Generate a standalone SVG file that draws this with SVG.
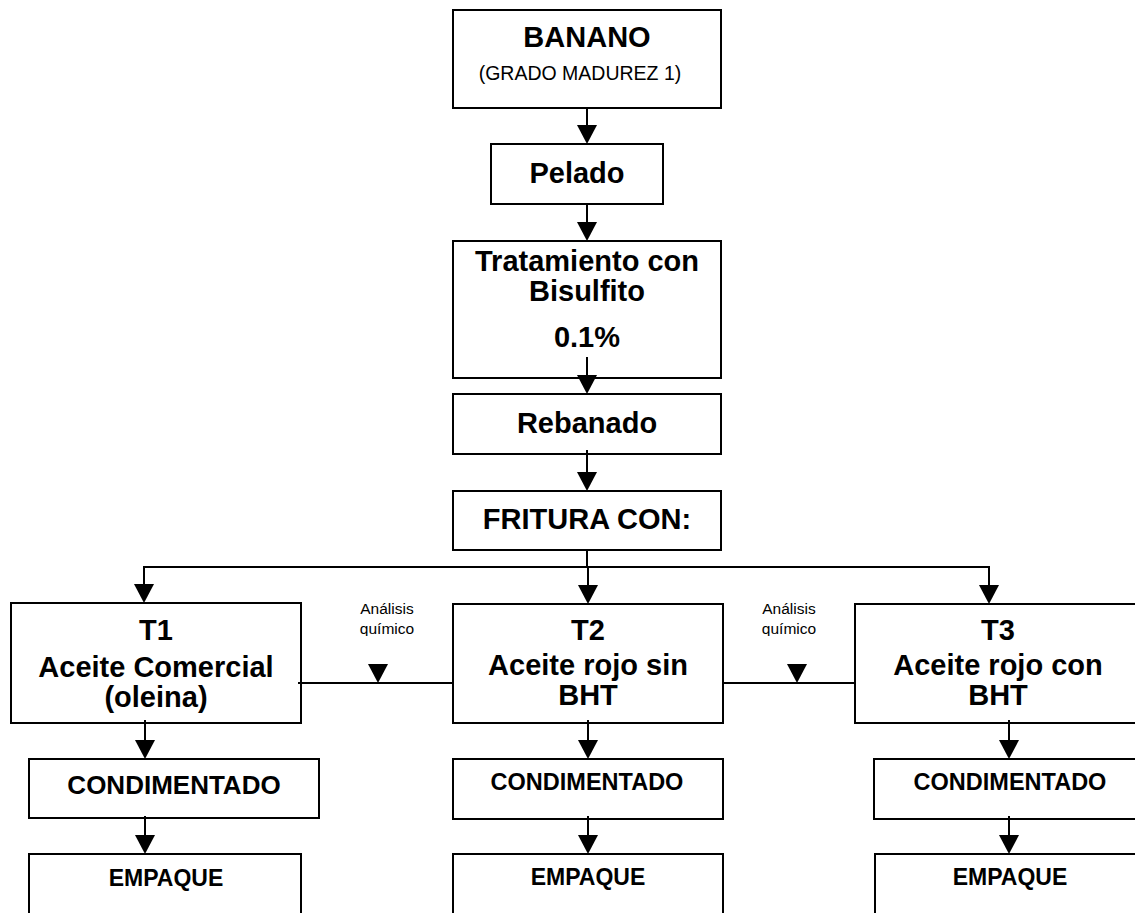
<svg xmlns="http://www.w3.org/2000/svg" xmlns:xlink="http://www.w3.org/1999/xlink" width="1135" height="913" viewBox="0 0 1135 913">
<style>
.box{fill:#fff;stroke:#000;stroke-width:2}
.ln{fill:none;stroke:#000;stroke-width:2}
.b{font-family:"Liberation Sans",Arial,sans-serif;font-weight:bold;fill:#000;text-anchor:middle}
.r{font-family:"Liberation Sans",Arial,sans-serif;fill:#000;text-anchor:middle}
</style>
<defs>
<path id="ah" d="M-10,-19 L10,-19 L0,0 Z" fill="#000"/>
<clipPath id="lblclip"><rect x="0" y="590" width="1135" height="46"/></clipPath>
</defs>
<rect width="1135" height="913" fill="#fff"/>
<g id="banano"><rect class="box" x="453" y="10" width="268" height="98"/>
<text class="b" x="587" y="47" font-size="29">BANANO</text>
<text class="r" x="580" y="80" font-size="19.5">(GRADO MADUREZ 1)</text></g>
<g id="pelado"><rect class="box" x="491" y="144" width="172" height="60"/>
<text class="b" x="577" y="183" font-size="29">Pelado</text></g>
<g id="tratamiento"><rect class="box" x="453" y="241" width="268" height="137"/>
<text class="b" x="587" y="271" font-size="29">Tratamiento con</text>
<text class="b" x="587" y="301" font-size="29">Bisulfito</text>
<text class="b" x="587" y="347" font-size="29">0.1%</text></g>
<g id="rebanado"><rect class="box" x="453" y="394" width="268" height="60"/>
<text class="b" x="587" y="433" font-size="29">Rebanado</text></g>
<g id="fritura"><rect class="box" x="453" y="491" width="268" height="59"/>
<text class="b" x="587" y="529" font-size="29">FRITURA CON:</text></g>
<g id="t1"><rect class="box" x="11" y="603" width="290" height="120"/>
<text class="b" x="156" y="640" font-size="29">T1</text>
<text class="b" x="156" y="677" font-size="29">Aceite Comercial</text>
<text class="b" x="156" y="707" font-size="29">(oleina)</text></g>
<g id="t2"><rect class="box" x="453" y="604" width="270" height="119"/>
<text class="b" x="588" y="640" font-size="29">T2</text>
<text class="b" x="588" y="675" font-size="29">Aceite rojo sin</text>
<text class="b" x="588" y="705" font-size="29">BHT</text></g>
<g id="t3"><rect class="box" x="855" y="604" width="292" height="119"/>
<text class="b" x="998" y="640" font-size="29">T3</text>
<text class="b" x="998" y="675" font-size="29">Aceite rojo con</text>
<text class="b" x="998" y="705" font-size="29">BHT</text></g>
<g id="cond1"><rect class="box" x="29" y="759" width="290" height="59"/>
<text class="b" x="174" y="794" font-size="26">CONDIMENTADO</text></g>
<g id="cond2"><rect class="box" x="453" y="759" width="270" height="60"/>
<text class="b" x="587" y="790" font-size="23.5">CONDIMENTADO</text></g>
<g id="cond3"><rect class="box" x="874" y="759" width="273" height="60"/>
<text class="b" x="1010" y="790" font-size="23.5">CONDIMENTADO</text></g>
<g id="emp1"><rect class="box" x="29" y="854" width="272" height="70"/>
<text class="b" x="166" y="886" font-size="23">EMPAQUE</text></g>
<g id="emp2"><rect class="box" x="453" y="854" width="270" height="70"/>
<text class="b" x="588" y="885" font-size="23">EMPAQUE</text></g>
<g id="emp3"><rect class="box" x="875" y="854" width="272" height="70"/>
<text class="b" x="1010" y="885" font-size="23">EMPAQUE</text></g>
<g id="labels" clip-path="url(#lblclip)">
<text class="r" x="387" y="614" font-size="15.5">Análisis</text>
<text class="r" x="387" y="634" font-size="15.5">químico</text>
<text class="r" x="789" y="614" font-size="15.5">Análisis</text>
<text class="r" x="789" y="634" font-size="15.5">químico</text>
</g>
<g id="connectors">
<path class="ln" d="M587,108 V130"/><use xlink:href="#ah" x="587" y="144"/>
<path class="ln" d="M587,204 V227"/><use xlink:href="#ah" x="587" y="241"/>
<path class="ln" d="M587,357 V380"/><use xlink:href="#ah" x="587" y="394"/>
<path class="ln" d="M587,450 V477"/><use xlink:href="#ah" x="587" y="491"/>
<path class="ln" d="M587,550 V567 M144,567 H989 M144,566 V590 M588,567 V590 M989,566 V590"/>
<use xlink:href="#ah" x="144" y="603"/><use xlink:href="#ah" x="588" y="604"/><use xlink:href="#ah" x="989" y="604"/>
<path class="ln" d="M145,720 V745 M588,720 V745 M1009,720 V745"/>
<use xlink:href="#ah" x="145" y="759"/><use xlink:href="#ah" x="588" y="759"/><use xlink:href="#ah" x="1009" y="759"/>
<path class="ln" d="M145,816 V840 M588,816 V840 M1009,816 V840"/>
<use xlink:href="#ah" x="145" y="854"/><use xlink:href="#ah" x="588" y="854"/><use xlink:href="#ah" x="1009" y="854"/>
<path class="ln" d="M298,683 H453 M723,683 H855"/>
<use xlink:href="#ah" x="378" y="683"/><use xlink:href="#ah" x="797" y="683"/>
</g>
</svg>
